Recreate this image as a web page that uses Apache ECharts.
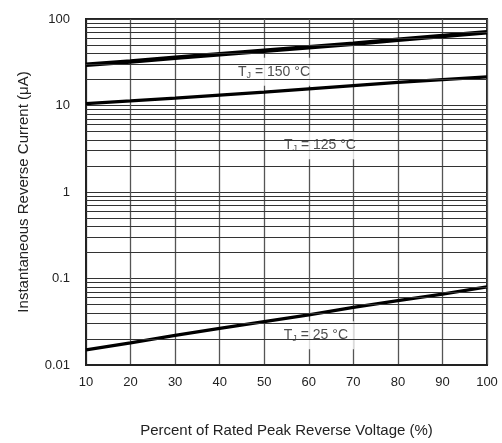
<!DOCTYPE html>
<html>
<head>
<meta charset="utf-8">
<script src="https://cdn.jsdelivr.net/npm/echarts@6/dist/echarts.min.js"></script>
<style>html,body{margin:0;padding:0;background:#fff}#c{width:502px;height:443px}</style>
</head>
<body>
<div id="c"></div>
<script>
// ---- data ----
const voltagePct = [10, 20, 30, 40, 50, 60, 70, 80, 90, 100];
const current150 = [29.6, 32.3, 35.6, 39.1, 42.9, 47.0, 51.8, 57.4, 63.6, 70.3];
const current125 = [10.5, 11.3, 12.2, 13.2, 14.3, 15.6, 17.0, 18.5, 19.9, 21.4];
const current25  = [0.015, 0.0180, 0.0220, 0.0265, 0.0318, 0.0380, 0.0465, 0.0555, 0.0660, 0.080];
const yTickLabels = ['0.01', '0.1', '1', '10', '100'];
const minorGridValues = [
  0.02,0.03,0.04,0.05,0.06,0.07,0.08,0.09,
  0.2,0.3,0.4,0.5,0.6,0.7,0.8,0.9,
  2,3,4,5,6,7,8,9,
  20,30,40,50,60,70,80,90
];
const curveLabels = [
  {temp: '150', x: 52.2, y: 24.6},
  {temp: '125', x: 62.5, y: 3.47},
  {temp: '25',  x: 61.6, y: 0.0221}
];

const font = 'Liberation Sans, Arial, sans-serif';
const chart = echarts.init(document.getElementById('c'));
const pairs = arr => voltagePct.map((v, i) => [v, arr[i]]);

chart.setOption({
  animation: false,
  textStyle: {fontFamily: font, color: '#222'},
  grid: {left: 86, right: 15, top: 19, bottom: 76, show: true, borderColor: '#222', borderWidth: 2},
  xAxis: {
    type: 'value', min: 10, max: 100, interval: 10,
    name: 'Percent of Rated Peak Reverse Voltage (%)',
    nameLocation: 'middle', nameGap: 58,
    nameTextStyle: {fontSize: 15, color: '#222', fontFamily: font},
    axisLine: {show: true, lineStyle: {color: '#222', width: 2}},
    axisTick: {show: false},
    axisLabel: {fontSize: 13, color: '#222', margin: 11, fontFamily: font},
    splitLine: {show: true, lineStyle: {color: '#555', width: 1.3}}
  },
  yAxis: {
    type: 'log', logBase: 10, min: 0.01, max: 100,
    name: 'Instantaneous Reverse Current (\u03bcA)',
    nameLocation: 'middle', nameGap: 55,
    nameTextStyle: {fontSize: 15, color: '#222', fontFamily: font},
    axisLine: {show: true, lineStyle: {color: '#222', width: 2}},
    axisTick: {show: false},
    axisLabel: {
      fontSize: 13, color: '#222', margin: 16, fontFamily: font,
      formatter: v => {
        const e = Math.round(Math.log10(v));
        return yTickLabels[e + 2];
      }
    },
    splitLine: {show: true, lineStyle: {color: '#333', width: 1}}
  },
  series: [
    {
      type: 'line', data: [], z: 1, silent: true,
      markLine: {
        silent: true, symbol: 'none', animation: false,
        label: {show: false},
        lineStyle: {color: '#333', width: 1, type: 'solid'},
        data: minorGridValues.map(v => ({yAxis: v}))
      }
    },
    {
      type: 'scatter', z: 2, silent: true, symbolSize: 0,
      data: curveLabels.map(l => ({value: [l.x, l.y], temp: l.temp})),
      label: {
        show: true, position: 'inside',
        backgroundColor: '#fff', padding: [6, 6, 6, 6],
        fontFamily: font,
        formatter: p => '{t|T}{s|J}{t| = ' + p.data.temp + ' \u00b0C}',
        rich: {
          t: {fontSize: 14, color: '#222', fontFamily: font, lineHeight: 16},
          s: {fontSize: 9, color: '#222', fontFamily: font, lineHeight: 16, padding: [7, 0, 0, 0]}
        }
      }
    },
    {type: 'line', z: 3, data: pairs(current150), symbol: 'none', lineStyle: {color: '#000', width: 4.5}},
    {type: 'line', z: 3, data: pairs(current125), symbol: 'none', lineStyle: {color: '#000', width: 3.3}},
    {type: 'line', z: 3, data: pairs(current25),  symbol: 'none', lineStyle: {color: '#000', width: 3.3}}
  ]
});
</script>
</body>
</html>
